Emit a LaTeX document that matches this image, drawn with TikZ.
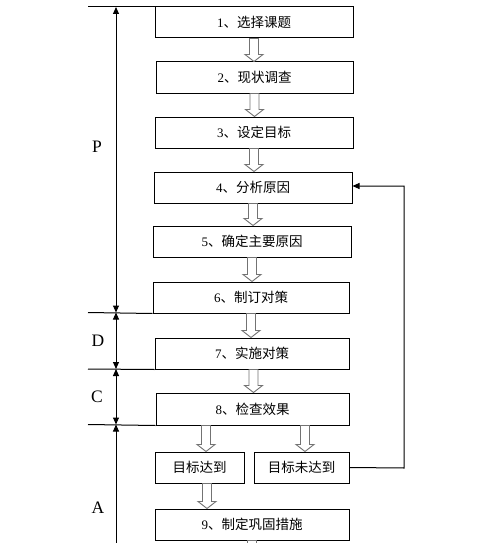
\documentclass[tikz,border=0pt]{standalone}
\usepackage{fontspec}
\setmainfont{Liberation Serif}
\newfontfamily\cjk{Noto Sans CJK SC}
\usetikzlibrary{arrows.meta,calc}
\newcommand{\hollowarrow}[2]{\draw[harrow] let \p1=(#1), \p2=(#2) in
  (\x1-4.5pt,\y1) -- (\x1+4.5pt,\y1) -- (\x1+4.5pt,\y2+7pt) -- (\x1+9pt,\y2+7pt)
  -- (\x1,\y2) -- (\x1-9pt,\y2+7pt) -- (\x1-4.5pt,\y2+7pt) -- cycle;}
\newcommand{\steptext}[2]{{\rmfamily\fontsize{13}{13}\selectfont #1}、#2}
\tikzset{
  stepbox/.style={draw, line width=1pt, inner sep=0pt, minimum height=31pt,
    font=\cjk\fontsize{13.5}{14}\selectfont},
  harrow/.style={draw=gray!90!black, fill=white, line width=0.9pt},
  phase/.style={font=\rmfamily\fontsize{17.5}{18}\selectfont},
  tick/.style={line width=1pt},
  span/.style={line width=1pt, {Triangle[length=7pt,width=6pt]}-{Triangle[length=7pt,width=6pt]}},
}
\begin{document}
\begin{tikzpicture}[x=1pt,y=-1pt]
\clip (0,0) rectangle (487,543);
\fill[white] (0,0) rectangle (487,543);
% boxes
\node[stepbox, minimum width=198pt] (b1) at (254,22.5) {\steptext{1}{选择课题}};
\node[stepbox, minimum width=197pt] (b2) at (254.5,77.5) {\steptext{2}{现状调查}};
\node[stepbox, minimum width=198pt] (b3) at (254,132.5) {\steptext{3}{设定目标}};
\node[stepbox, minimum width=198pt] (b4) at (253,187.5) {\steptext{4}{分析原因}};
\node[stepbox, minimum width=198pt] (b5) at (252,241.5) {\steptext{5}{确定主要原因}};
\node[stepbox, minimum width=196pt] (b6) at (251,297.5) {\steptext{6}{制订对策}};
\node[stepbox, minimum width=194pt] (b7) at (252,353.5) {\steptext{7}{实施对策}};
\node[stepbox, minimum width=193pt, minimum height=32pt] (b8) at (252.5,409) {\steptext{8}{检查效果}};
\node[stepbox, minimum width=89pt] (ok) at (199.5,467.5) {目标达到};
\node[stepbox, minimum width=95pt] (no) at (301.5,467.5) {目标未达到};
\node[stepbox, minimum width=194pt] (b9) at (252,524.5) {\steptext{9}{制定巩固措施}};
% hollow arrows
\hollowarrow{b1.south}{b2.north}
\hollowarrow{b2.south}{b3.north}
\hollowarrow{b3.south}{b4.north}
\hollowarrow{b4.south}{b5.north}
\hollowarrow{b5.south}{b6.north}
\hollowarrow{b6.south}{b7.north}
\hollowarrow{$(b7.south)+(1.5,0)$}{b8.north}
\hollowarrow{$(b8.south)+(-46.5,0)$}{ok.north}
\hollowarrow{$(b8.south)+(52.5,0)$}{no.north}
\hollowarrow{$(ok.south)+(7.5,0)$}{b9.north}
\coordinate (bend) at (252,580);
\hollowarrow{b9.south}{bend}
% feedback
\coordinate (fb1) at (404,468);
\coordinate (fb2) at (404,186);
\draw[line width=1pt, -{Triangle[length=7pt,width=6pt]}] (no.east) -- (fb1) -- (fb2) -- (b4.east |- fb2);
% phase lines
\coordinate (t0) at (88,7);
\coordinate (t1) at (88,312.5);
\coordinate (t2) at (88,369);
\coordinate (t3) at (88,424.5);
\draw[tick] (t0) -- (155,7);
\draw[tick] (t1) -- (b6.south west);
\draw[tick] (t2) -- (b7.south west);
\draw[tick] (t3) -- (b8.south west);
\coordinate (a0) at (116,7);
\coordinate (a1) at (116,312.5);
\coordinate (a2) at (116,369);
\coordinate (a3) at (116,424.5);
\coordinate (a4) at (116,600);
\draw[span] (a0) -- (a1);
\draw[span] (a1) -- (a2);
\draw[span] (a2) -- (a3);
\draw[line width=1pt, -{Triangle[length=7pt,width=6pt]}] (a4) -- (a3);
\node[phase] (lp) at (97,147) {P};
\node[phase] (ld) at (98,341) {D};
\node[phase] (lc) at (97,397) {C};
\node[phase] (la) at (98,508) {A};
\end{tikzpicture}
\end{document}
